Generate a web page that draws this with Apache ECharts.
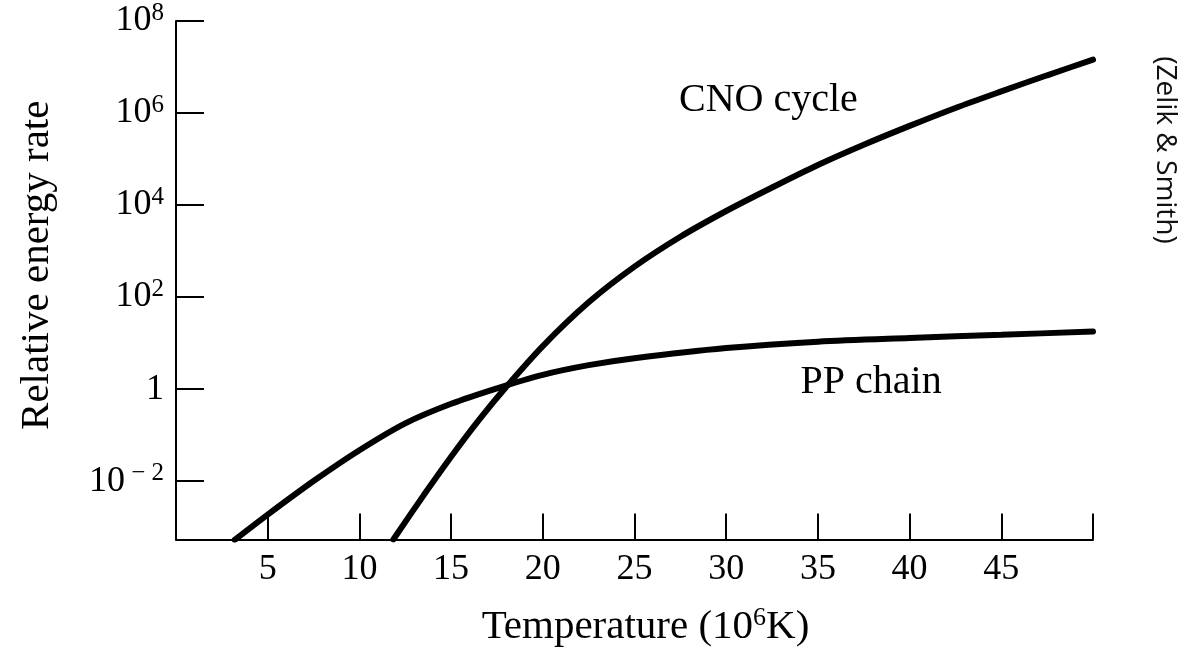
<!DOCTYPE html>
<html>
<head>
<meta charset="utf-8">
<title>Relative energy rate vs temperature</title>
<script src="https://cdn.jsdelivr.net/npm/echarts@6/dist/echarts.min.js"></script>
<style>
  html, body { margin: 0; padding: 0; background: #fff; }
  #chart { width: 1184px; height: 653px; }
</style>
</head>
<body>
<div id="chart"></div>
<script>
// Temperature in units of 10^6 K, rate as log10 of the relative energy rate
const ppTemperature  = [3.2, 5.0, 7.5, 10.0, 12.5, 15.0, 17.5, 20.0, 22.5, 25.0, 30.0, 35.0, 40.0, 45.0, 50.0];
const ppLogRate      = [-3.28, -2.73, -2.0, -1.33, -0.745, -0.32, 0.017, 0.31, 0.52, 0.67, 0.89, 1.03, 1.11, 1.18, 1.25];

const cnoTemperature = [11.85, 13.5, 15.0, 16.5, 18.0, 20.0, 22.5, 25.0, 27.5, 30.0, 32.5, 35.0, 37.5, 40.0, 42.5, 45.0, 47.5, 50.0];
const cnoLogRate     = [-3.27, -2.31, -1.47, -0.68, 0.045, 0.935, 1.885, 2.66, 3.31, 3.87, 4.38, 4.87, 5.31, 5.72, 6.11, 6.47, 6.82, 7.16];

const xTickValues  = [5, 10, 15, 20, 25, 30, 35, 40, 45, 50];
const xLabelValues = [5, 10, 15, 20, 25, 30, 35, 40, 45];
const yTickValues  = [-2, 0, 2, 4, 6, 8];   // powers of ten

const curveLabels = [
  { text: 'CNO cycle', at: [32.3, 6.28] },
  { text: 'PP chain',  at: [37.9, 0.14] }
];

const serif = '"Liberation Serif", "DejaVu Serif", serif';
const ink = '#000';

const pairs = (xs, ys) => xs.map((x, i) => [x, ys[i]]);

function powerLabel(v) {
  if (v === 0) return '{b|1}';
  const exp = v < 0 ? ' \u2212 ' + (-v) : String(v);
  return '{b|10}{sup|' + exp + '}';
}

function curveSeries(name, xs, ys, label) {
  return {
    name: name,
    type: 'line',
    data: pairs(xs, ys),
    smooth: 0.3,
    showSymbol: false,
    lineStyle: { color: ink, width: 6, cap: 'round' },
    markPoint: {
      symbol: 'circle',
      symbolSize: 0,
      label: { show: true, position: 'inside', fontFamily: serif, fontSize: 40, color: ink,
               formatter: p => p.name },
      data: [{ name: label.text, coord: label.at }]
    }
  };
}

const chart = echarts.init(document.getElementById('chart'), null, { renderer: 'canvas' });

chart.setOption({
  backgroundColor: '#fff',
  animation: false,
  grid: { left: 176, right: 91, top: 21, bottom: 112 },
  xAxis: {
    type: 'value',
    min: 0,
    max: 50,
    interval: 5,
    name: '{b|Temperature (10}{sup|6}{b|K)}',
    nameLocation: 'middle',
    nameGap: 66,
    nameTextStyle: {
      padding: [0, 0, 0, 22],
      rich: {
        b: { fontFamily: serif, fontSize: 41, color: ink, lineHeight: 44 },
        sup: { fontFamily: serif, fontSize: 26, color: ink, lineHeight: 28, verticalAlign: 'top' }
      }
    },
    axisLine: { show: true, onZero: false, lineStyle: { color: ink, width: 2 } },
    axisTick: { show: true, inside: true, length: 26, customValues: xTickValues, lineStyle: { color: ink, width: 2 } },
    axisLabel: {
      customValues: xLabelValues,
      margin: 12,
      fontFamily: serif,
      fontSize: 36,
      color: ink
    },
    splitLine: { show: false }
  },
  yAxis: {
    type: 'value',
    min: -3.27,
    max: 8,
    name: 'Relative energy rate',
    nameLocation: 'middle',
    nameGap: 118,
    nameTextStyle: { fontFamily: serif, fontSize: 41, color: ink, padding: [0, 0, 0, 30] },
    axisLine: { show: true, onZero: false, lineStyle: { color: ink, width: 2 } },
    axisTick: { show: true, inside: true, length: 28, customValues: yTickValues, lineStyle: { color: ink, width: 2 } },
    axisLabel: {
      customValues: yTickValues,
      margin: 12,
      formatter: powerLabel,
      rich: {
        b: { fontFamily: serif, fontSize: 36, color: ink, lineHeight: 40 },
        sup: { fontFamily: serif, fontSize: 25, color: ink, lineHeight: 25, verticalAlign: 'top' }
      }
    },
    splitLine: { show: false }
  },
  series: [
    curveSeries('CNO cycle', cnoTemperature, cnoLogRate, curveLabels[0]),
    curveSeries('PP chain', ppTemperature, ppLogRate, curveLabels[1])
  ],
  graphic: [
    {
      type: 'text',
      x: 1165,
      y: 150,
      rotation: -Math.PI / 2,
      style: {
        text: '(Zelik & Smith)',
        fontFamily: '"Open Sans", "Noto Sans", sans-serif',
        fontSize: 28,
        fill: '#111',
        align: 'center',
        verticalAlign: 'middle'
      }
    }
  ]
});
</script>
</body>
</html>
